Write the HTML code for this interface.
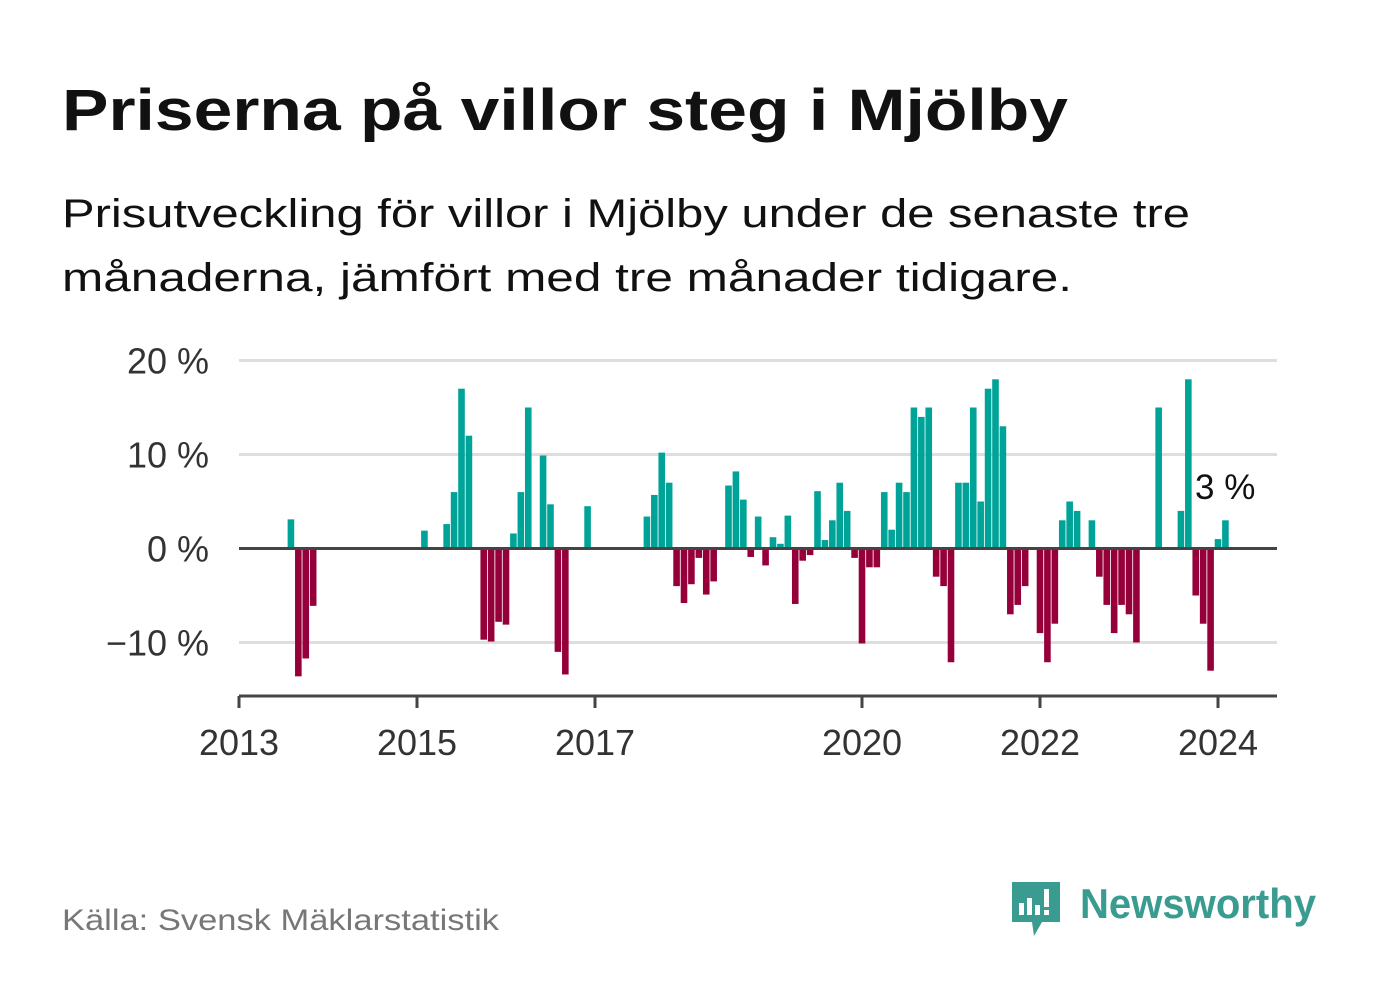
<!DOCTYPE html>
<html><head><meta charset="utf-8"><style>
html,body{margin:0;padding:0;background:#fff;}
svg{display:block;font-family:"Liberation Sans",sans-serif;}
</style></head><body>
<svg id="chart" width="1382" height="999" viewBox="0 0 1382 999">
<text x="62" y="130" font-size="58" font-weight="bold" fill="#111" textLength="1006" lengthAdjust="spacingAndGlyphs">Priserna på villor steg i Mjölby</text>
<text x="62" y="227" font-size="40" fill="#111" textLength="1128" lengthAdjust="spacingAndGlyphs">Prisutveckling för villor i Mjölby under de senaste tre</text>
<text x="62" y="291" font-size="40" fill="#111" textLength="1010" lengthAdjust="spacingAndGlyphs">månaderna, jämfört med tre månader tidigare.</text>
<g id="grid"></g>
<g id="bars"></g>
<g id="axes"></g>
<text x="1195" y="499" font-size="35" fill="#111">3 %</text>
<text x="62" y="930" font-size="30" fill="#777" textLength="437" lengthAdjust="spacingAndGlyphs">Källa: Svensk Mäklarstatistik</text>
<g>
<path d="M1012 882 h48 v40 h-18 l-8 14 l-2 -14 h-20 z" fill="#3a9b91"/>
<rect x="1019" y="903" width="5" height="12" fill="#fff"/>
<rect x="1027" y="898" width="5" height="17" fill="#fff"/>
<rect x="1035" y="905" width="5" height="10" fill="#fff"/>
<rect x="1044" y="889" width="5" height="18" fill="#fff"/>
<rect x="1044" y="910" width="5" height="5" fill="#fff"/>
<text x="1080" y="918" font-size="42" font-weight="bold" fill="#3a9b91" textLength="236" lengthAdjust="spacingAndGlyphs">Newsworthy</text>
</g>
</svg>
<script>
const months = [7,8,9,10,25,28,29,30,31,33,34,35,36,37,38,39,41,42,43,44,47,55,56,57,58,59,60,61,62,63,64,66,67,68,69,70,71,72,73,74,75,76,77,78,79,80,81,82,83,84,85,86,87,88,89,90,91,92,93,94,95,96,97,98,99,100,101,102,103,104,105,106,108,109,110,111,112,113,115,116,117,118,119,120,121,124,127,128,129,130,131,132,133];
const values = [3.1,-13.6,-11.7,-6.1,1.9,2.6,6.0,17.0,12.0,-9.7,-9.9,-7.8,-8.1,1.6,6.0,15.0,9.9,4.7,-11.0,-13.4,4.5,3.4,5.7,10.2,7.0,-4.0,-5.8,-3.8,-1.0,-4.9,-3.5,6.7,8.2,5.2,-0.9,3.4,-1.8,1.2,0.5,3.5,-5.9,-1.3,-0.7,6.1,0.9,3.0,7.0,4.0,-1.0,-10.1,-2.0,-2.0,6.0,2.0,7.0,6.0,15.0,14.0,15.0,-3.0,-4.0,-12.1,7.0,7.0,15.0,5.0,17.0,18.0,13.0,-7.0,-6.0,-4.0,-9.0,-12.1,-8.0,3.0,5.0,4.0,3.0,-3.0,-6.0,-9.0,-6.0,-7.0,-10.0,15.0,4.0,18.0,-5.0,-8.0,-13.0,1.0,3.0];
const yTicks = [20,10,0,-10];
const yTickLabels = ["20 %","10 %","0 %","\u221210 %"];
const xTickYears = [2013,2015,2017,2020,2022,2024];
const NS="http://www.w3.org/2000/svg";
const X0=239, X1=1277, PX_PER_YEAR=89.0;
function xScale(m){return X0 + m*PX_PER_YEAR/12;}
function yScale(v){return 548.5 - v*9.4;}
function mk(tag,attrs,parent){const e=document.createElementNS(NS,tag);for(const k in attrs)e.setAttribute(k,attrs[k]);parent.appendChild(e);return e;}
const grid=document.getElementById('grid'), bars=document.getElementById('bars'), axes=document.getElementById('axes');
yTicks.forEach((t,i)=>{
  if(t!==0){const l=mk('line',{x1:X0,x2:X1,y1:yScale(t),y2:yScale(t),stroke:'#dedede','stroke-width':3},grid);
  
  }
  const tx=mk('text',{x:209,y:yScale(t)+13,'font-size':36,fill:'#333','text-anchor':'end'},axes);
  tx.textContent=yTickLabels[i];
  
  
});
months.forEach((m,i)=>{
  const v=values[i];const y0=yScale(0), y1=yScale(v);
  const r=mk('rect',{x:xScale(m)-3.3,y:Math.min(y0,y1),width:6.6,height:Math.abs(y1-y0),fill:v>=0?'#00a398':'#96003a'},bars);
  
  
});
const zl=mk('line',{x1:X0,x2:X1,y1:yScale(0),y2:yScale(0),stroke:'#444','stroke-width':3},axes);


const xa=mk('line',{x1:X0,x2:X1,y1:696,y2:696,stroke:'#444','stroke-width':3},axes);


xTickYears.forEach(yr=>{
  const x=xScale((yr-2013)*12);
  const tk=mk('line',{x1:x,x2:x,y1:696,y2:708,stroke:'#444','stroke-width':3},axes);
  
  
  const tx=mk('text',{x:x,y:755,'font-size':36,fill:'#333','text-anchor':'middle'},axes);
  tx.textContent=yr;
  
  
});
</script>
</body></html>
